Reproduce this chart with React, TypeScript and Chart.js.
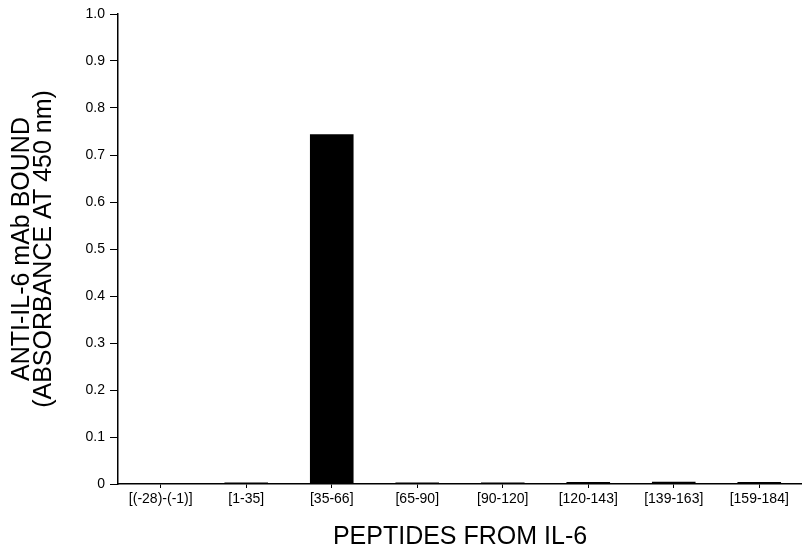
import React, { useEffect, useRef } from "react";
import { Chart, registerables } from "chart.js";

Chart.register(...registerables);

const categories = [
  "[(-28)-(-1)]",
  "[1-35]",
  "[35-66]",
  "[65-90]",
  "[90-120]",
  "[120-143]",
  "[139-163]",
  "[159-184]",
];
const absorbance = [0.002, 0.003, 0.744, 0.003, 0.003, 0.004, 0.005, 0.004];
const yTitle = ["ANTI-IL-6 mAb BOUND", "(ABSORBANCE AT 450 nm)"];
const xTitle = "PEPTIDES FROM IL-6";

const FONT = "'Liberation Sans', Arial, Helvetica, sans-serif";

export default function App() {
  const ref = useRef<HTMLCanvasElement | null>(null);
  useEffect(() => {
    if (!ref.current) return;
    const chart = new Chart(ref.current, {
      type: "bar",
      data: {
        labels: categories,
        datasets: [
          {
            data: absorbance,
            backgroundColor: "#000",
            borderWidth: 0,
            categoryPercentage: 1,
            barPercentage: 0.51,
          },
        ],
      },
      options: {
        animation: false,
        responsive: false,
        maintainAspectRatio: false,
        layout: { padding: { left: 0, right: -5, top: 14, bottom: 0 } },
        plugins: { legend: { display: false }, tooltip: { enabled: false } },
        scales: {
          x: {
            grid: {
              display: true,
              offset: false,
              drawOnChartArea: false,
              tickLength: 4,
              color: "#000",
            },
            border: { display: true, color: "#000", width: 1.5 },
            ticks: {
              color: "#000",
              font: { family: FONT, size: 14 },
              maxRotation: 0,
              autoSkip: false,
              padding: 3,
            },
            title: {
              display: true,
              text: xTitle,
              color: "#000",
              font: { family: FONT, size: 25, lineHeight: 1.0 },
              padding: { top: 6, bottom: -4 },
            },
            afterFit: (s: any) => {
              s.height = 62;
            },
          },
          y: {
            min: 0,
            max: 1,
            grid: {
              display: true,
              drawOnChartArea: false,
              tickLength: 8,
              color: "#000",
            },
            border: { display: true, color: "#000", width: 1.5 },
            ticks: {
              stepSize: 0.1,
              color: "#000",
              font: { family: FONT, size: 14 },
              padding: 5,
              callback: (v: any) => {
                const n = Number(v);
                if (Math.abs(n) < 1e-9) return "0";
                return n.toFixed(1);
              },
            },
            title: {
              display: true,
              text: yTitle,
              color: "#000",
              font: { family: FONT, size: 25, lineHeight: 0.88 },
              padding: { top: 11, bottom: 0 },
            },
            afterFit: (s: any) => {
              s.width = 118;
            },
          },
        },
      },
    });
    return () => chart.destroy();
  }, []);
  return (
    <div style={{ position: "fixed", left: 0, top: 0, width: 802, height: 546, background: "#fff" }}>
      <canvas ref={ref} width={802} height={546} />
    </div>
  );
}
